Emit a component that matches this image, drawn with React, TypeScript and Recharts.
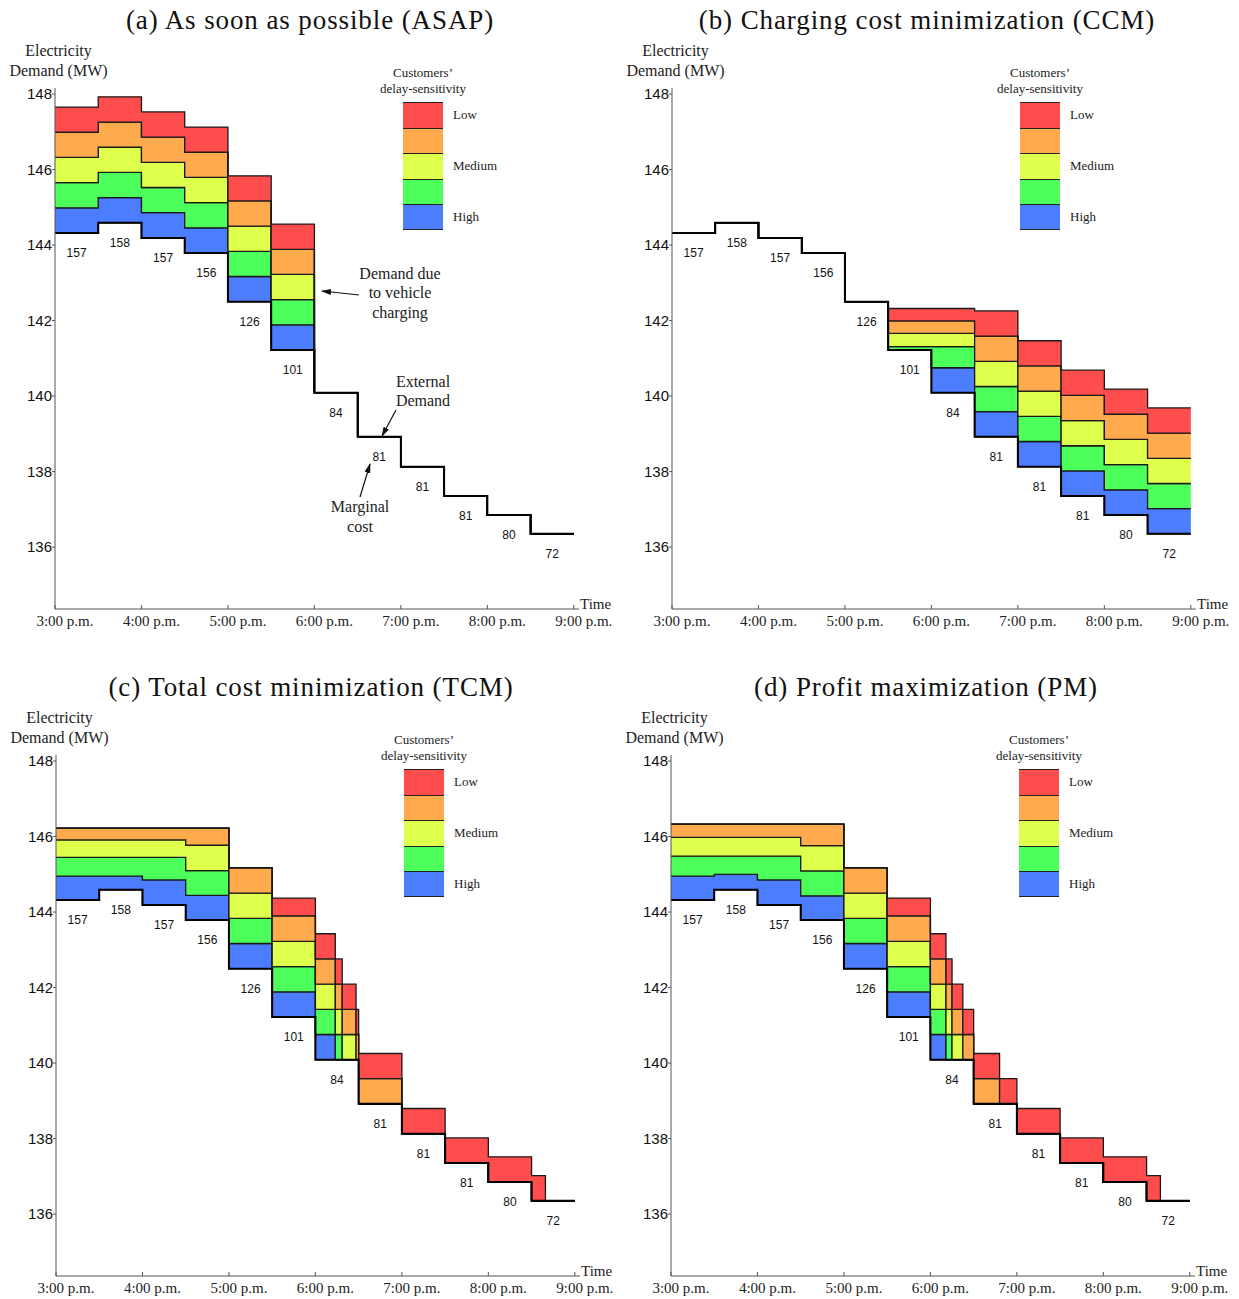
import React from "react"
import { ComposedChart, Area, Line, Scatter, XAxis, YAxis } from "recharts"

const slotTimes = [15, 15.5, 16, 16.5, 17, 17.5, 18, 18.5, 19, 19.5, 20, 20.5]
const externalDemand = [144.32, 144.59, 144.19, 143.79, 142.5, 141.22, 140.09, 138.92, 138.13, 137.35, 136.85, 136.35]
const marginalCost = [157, 158, 157, 156, 126, 101, 84, 81, 81, 81, 80, 72]
const yTicks = [136, 138, 140, 142, 144, 146, 148]
const xTicks = [15, 16, 17, 18, 19, 20, 21]
const xTickLabels = ["3:00 p.m.", "4:00 p.m.", "5:00 p.m.", "6:00 p.m.", "7:00 p.m.", "8:00 p.m.", "9:00 p.m."]

const layerColors = ["#4d7dff", "#4dff5a", "#dfff4d", "#ffaa4d", "#ff4d4d"]
const legendLabels = ["Low", "Medium", "High"]

// [start, end, blue (high), green, yellow (medium), orange, red (low)] in MW above external demand
const asapBlocks = [
    [15, 15.5, 0.667, 0.667, 0.667, 0.667, 0.667],
    [15.5, 16, 0.667, 0.667, 0.667, 0.667, 0.667],
    [16, 16.5, 0.667, 0.667, 0.667, 0.667, 0.667],
    [16.5, 17, 0.667, 0.667, 0.667, 0.667, 0.667],
    [17, 17.5, 0.667, 0.667, 0.667, 0.667, 0.667],
    [17.5, 18, 0.667, 0.667, 0.667, 0.667, 0.667],
]

const ccmBlocks = [
    [17.5, 18, 0, 0.09, 0.35, 0.33, 0.33],
    [18, 18.5, 0.66, 0.56, 0.35, 0.33, 0.33],
    [18.5, 19, 0.667, 0.667, 0.667, 0.667, 0.667],
    [19, 19.5, 0.667, 0.667, 0.667, 0.667, 0.667],
    [19.5, 20, 0.667, 0.667, 0.667, 0.667, 0.667],
    [20, 20.5, 0.667, 0.667, 0.667, 0.667, 0.667],
    [20.5, 21, 0.667, 0.667, 0.667, 0.667, 0.667],
]

const tcmBlocks = [
    [15, 15.5, 0.63, 0.5, 0.46, 0.31, 0],
    [15.5, 16, 0.36, 0.5, 0.46, 0.31, 0],
    [16, 16.5, 0.66, 0.6, 0.46, 0.31, 0],
    [16.5, 17, 0.65, 0.66, 0.67, 0.45, 0],
    [17, 17.5, 0.667, 0.667, 0.667, 0.667, 0],
    [17.5, 18, 0.667, 0.667, 0.667, 0.68, 0.47],
    [18, 18.23, 0.667, 0.667, 0.667, 0.667, 0.667],
    [18.23, 18.31, 0, 0.667, 0.667, 0.667, 0.667],
    [18.31, 18.47, 0, 0, 0.667, 0.667, 0.667],
    [18.47, 18.5, 0, 0, 0, 0.667, 0.667],
    [18.5, 19, 0, 0, 0, 0.667, 0.667],
    [19, 19.5, 0, 0, 0, 0, 0.667],
    [19.5, 20, 0, 0, 0, 0, 0.667],
    [20, 20.5, 0, 0, 0, 0, 0.667],
    [20.5, 20.66, 0, 0, 0, 0, 0.667],
]

const pmBlocks = [
    [15, 15.5, 0.63, 0.53, 0.5, 0.35, 0],
    [15.5, 16, 0.41, 0.48, 0.5, 0.35, 0],
    [16, 16.5, 0.66, 0.63, 0.5, 0.35, 0],
    [16.5, 17, 0.64, 0.66, 0.67, 0.57, 0],
    [17, 17.5, 0.667, 0.667, 0.667, 0.667, 0],
    [17.5, 18, 0.667, 0.667, 0.667, 0.68, 0.47],
    [18, 18.18, 0.667, 0.667, 0.667, 0.667, 0.667],
    [18.18, 18.25, 0, 0.667, 0.667, 0.667, 0.667],
    [18.25, 18.375, 0, 0, 0.667, 0.667, 0.667],
    [18.375, 18.5, 0, 0, 0, 0.667, 0.667],
    [18.5, 18.8, 0, 0, 0, 0.667, 0.667],
    [18.8, 19, 0, 0, 0, 0, 0.667],
    [19, 19.5, 0, 0, 0, 0, 0.667],
    [19.5, 20, 0, 0, 0, 0, 0.667],
    [20, 20.5, 0, 0, 0, 0, 0.667],
    [20.5, 20.66, 0, 0, 0, 0, 0.667],
]

const SERIF = "'Liberation Serif', 'DejaVu Serif', serif"
const SANS = "'Liberation Sans', Arial, sans-serif"

function buildRows(blocks: number[][]) {
    const xs = new Set<number>(slotTimes)
    blocks.forEach((b) => {
        xs.add(b[0])
        xs.add(b[1])
    })
    xs.add(21)
    const sorted = [...xs].sort((a, b) => a - b)
    return sorted.map((x) => {
        const t = Math.min(x, 20.99)
        const slot = Math.min(11, Math.floor((t - 15) * 2 + 1e-6))
        const base = externalDemand[slot]
        const blk = blocks.find((b) => t >= b[0] - 1e-6 && t < b[1] - 1e-6)
        const th = blk ? blk.slice(2) : [0, 0, 0, 0, 0]
        const row: any = { x, base }
        let lo = base
        th.forEach((v, i) => {
            row["c" + i] = [lo, lo + v]
            lo += v
        })
        return row
    })
}

const costPoints = slotTimes.map((t, i) => ({ x: t + 0.25, y: externalDemand[i], cost: marginalCost[i] }))

function XTick(props: any) {
    const { x, y, payload } = props
    const idx = xTicks.indexOf(payload.value)
    return (
        <g>
            <line x1={x} x2={x} y1={y} y2={y - 4} stroke="#555" />
            <text x={x + 10} y={y + 17} textAnchor="middle" fontFamily={SERIF} fontSize={15} fill="#222">
                {xTickLabels[idx]}
            </text>
        </g>
    )
}

function CostLabel(props: any) {
    const { cx, cy, payload } = props
    return (
        <text x={cx} y={cy + 24} textAnchor="middle" fontFamily={SANS} fontSize={12} fill="#111">
            {payload.cost}
        </text>
    )
}

function Legend() {
    return (
        <>
            <div style={{ position: "absolute", left: 363, top: 65, width: 120, textAlign: "center", fontFamily: SERIF, fontSize: 13, lineHeight: "16px", color: "#222" }}>
                Customers’
                <br />
                delay-sensitivity
            </div>
            {[4, 3, 2, 1, 0].map((c, k) => (
                <div
                    key={c}
                    style={{
                        position: "absolute",
                        left: 403,
                        top: 102 + k * 25.6,
                        width: 40,
                        height: 25.6,
                        background: layerColors[c],
                        borderTop: "1px solid #222",
                        borderBottom: k === 4 ? "1px solid #222" : "none",
                        boxSizing: "border-box",
                    }}
                />
            ))}
            {legendLabels.map((l, k) => (
                <div key={l} style={{ position: "absolute", left: 453, top: 107 + k * 51, fontFamily: SERIF, fontSize: 13, lineHeight: "16px", color: "#222" }}>
                    {l}
                </div>
            ))}
        </>
    )
}

function Annotations() {
    const t = { fontFamily: SERIF, fontSize: 16, fill: "#222", textAnchor: "middle" as const }
    return (
        <svg width={617} height={640} style={{ position: "absolute", left: 0, top: 0, pointerEvents: "none" }}>
            <defs>
                <marker id="ah" markerWidth="10" markerHeight="6" refX="9" refY="3" orient="auto" markerUnits="userSpaceOnUse">
                    <path d="M0,0 L10,3 L0,6 z" fill="#111" />
                </marker>
            </defs>
            <text x={400} y={279} {...t}>Demand due</text>
            <text x={400} y={298} {...t}>to vehicle</text>
            <text x={400} y={318} {...t}>charging</text>
            <line x1={359} y1={295} x2={322} y2={291} stroke="#111" strokeWidth={1.2} markerEnd="url(#ah)" />
            <text x={423} y={387} {...t}>External</text>
            <text x={423} y={406} {...t}>Demand</text>
            <line x1={396} y1={410} x2={382} y2={436} stroke="#111" strokeWidth={1.2} markerEnd="url(#ah)" />
            <text x={360} y={512} {...t}>Marginal</text>
            <text x={360} y={532} {...t}>cost</text>
            <line x1={360} y1={497} x2={370} y2={464} stroke="#111" strokeWidth={1.2} markerEnd="url(#ah)" />
        </svg>
    )
}

interface PanelProps {
    left: number
    top: number
    title: string
    blocks: number[][]
    notes?: boolean
}

function Panel({ left, top, title, blocks, notes }: PanelProps) {
    const rows = buildRows(blocks)
    return (
        <div style={{ position: "absolute", left, top, width: 617, height: 640 }}>
            <ComposedChart width={617} height={640} data={rows} margin={{ top: 88, right: 38, bottom: 1, left: 10 }}>
                <XAxis
                    type="number"
                    dataKey="x"
                    domain={[15, 21.06]}
                    ticks={xTicks}
                    allowDataOverflow
                    height={30}
                    tickSize={0}
                    tickMargin={0}
                    tickLine={false}
                    axisLine={{ stroke: "#555" }}
                    tick={<XTick />}
                />
                <YAxis
                    type="number"
                    domain={[134.36, 148.16]}
                    ticks={yTicks}
                    allowDataOverflow
                    width={45}
                    tickSize={3}
                    tickMargin={0}
                    axisLine={{ stroke: "#555" }}
                    tickLine={{ stroke: "#555" }}
                    tick={{ fontFamily: SANS, fontSize: 15, fill: "#111" }}
                />
                {layerColors.map((c, i) => (
                    <Area
                        key={c}
                        type="stepAfter"
                        dataKey={"c" + i}
                        fill={c}
                        fillOpacity={1}
                        stroke="#1a1a1a"
                        strokeWidth={1.3}
                        dot={false}
                        activeDot={false}
                        isAnimationActive={false}
                    />
                ))}
                <Line type="stepAfter" dataKey="base" stroke="#000" strokeWidth={2} dot={false} activeDot={false} isAnimationActive={false} />
                <Scatter data={costPoints} dataKey="y" shape={<CostLabel />} isAnimationActive={false} />
            </ComposedChart>
            <div style={{ position: "absolute", left: 0, top: 3, width: 620, textAlign: "center", fontFamily: SERIF, fontSize: 27, letterSpacing: "0.9px", lineHeight: "34px", color: "#111" }}>
                {title}
            </div>
            <div style={{ position: "absolute", left: 0, top: 41, width: 117, textAlign: "center", fontFamily: SERIF, fontSize: 16, lineHeight: "20px", color: "#222" }}>
                Electricity
                <br />
                Demand (MW)
            </div>
            <div style={{ position: "absolute", left: 580, top: 595, fontFamily: SERIF, fontSize: 15, lineHeight: "18px", color: "#222" }}>Time</div>
            <Legend />
            {notes && <Annotations />}
        </div>
    )
}

export default function App() {
    return (
        <div style={{ position: "absolute", left: 0, top: 0, width: 1239, height: 1299, background: "#fff", overflow: "hidden" }}>
            <Panel left={0} top={0} title="(a) As soon as possible (ASAP)" blocks={asapBlocks} notes />
            <Panel left={617} top={0} title="(b) Charging cost minimization (CCM)" blocks={ccmBlocks} />
            <Panel left={1} top={667} title="(c) Total cost minimization (TCM)" blocks={tcmBlocks} />
            <Panel left={616} top={667} title="(d) Profit maximization (PM)" blocks={pmBlocks} />
        </div>
    )
}
